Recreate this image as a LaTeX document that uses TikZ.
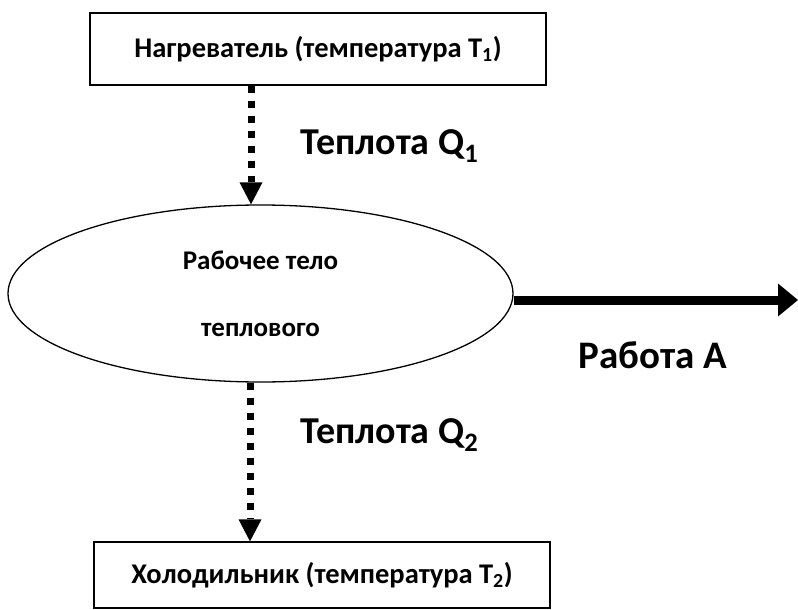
\documentclass[tikz,border=0pt]{standalone}
\usepackage{fontspec}
\setmainfont{Carlito}
\usetikzlibrary{positioning,shapes.geometric,arrows.meta}

\begin{document}
\begin{tikzpicture}[x=1pt,y=-1pt,
    box/.style={draw,line width=1.3pt,minimum width=456pt,minimum height=72pt,
      inner sep=0pt,font=\fontsize{28.5}{34}\selectfont\bfseries},
    heat/.style={line width=7pt,dash pattern=on 7pt off 8pt,
      -{Triangle[width=23pt,length=22pt,line width=0pt]}},
    work/.style={line width=9pt,-{Triangle[width=33pt,length=20pt,line width=0pt]}},
    lbl/.style={font=\fontsize{38}{44}\selectfont\bfseries}]
  \useasboundingbox (0,0) rectangle (798,610);

  \node[box] (heater) at (318,49) {Нагреватель (температура T\textsubscript{1})};
  \node[draw,ellipse,line width=1.3pt,minimum width=505pt,minimum height=177pt,
    inner sep=0pt,align=center,font=\fontsize{27}{67}\selectfont\bfseries]
    (body) at (260.5,293.5) {Рабочее тело\\теплового};
  \node[box,minimum height=66pt] (cooler) at (322,575) {Холодильник (температура T\textsubscript{2})};

  \coordinate (in) at ([xshift=-9.5pt]body.north);
  \coordinate (back) at ([xshift=-10.5pt]body.south);
  \coordinate (out) at (798,300);

  \draw[heat] (in |- heater.south) -- (in);
  \draw[heat] (back) -- (back |- cooler.north);
  \draw[work] (body.east |- out) -- (out);

  \node[lbl,anchor=base west] (q1) at (297,154) {Теплота Q\textsubscript{1}};
  \node[lbl,anchor=base west] (q2) at (297,443) {Теплота Q\textsubscript{2}};
  \node[lbl,anchor=base west,font=\fontsize{39}{46}\selectfont\bfseries] (a) at (575,368) {Работа А};
\end{tikzpicture}
\end{document}
